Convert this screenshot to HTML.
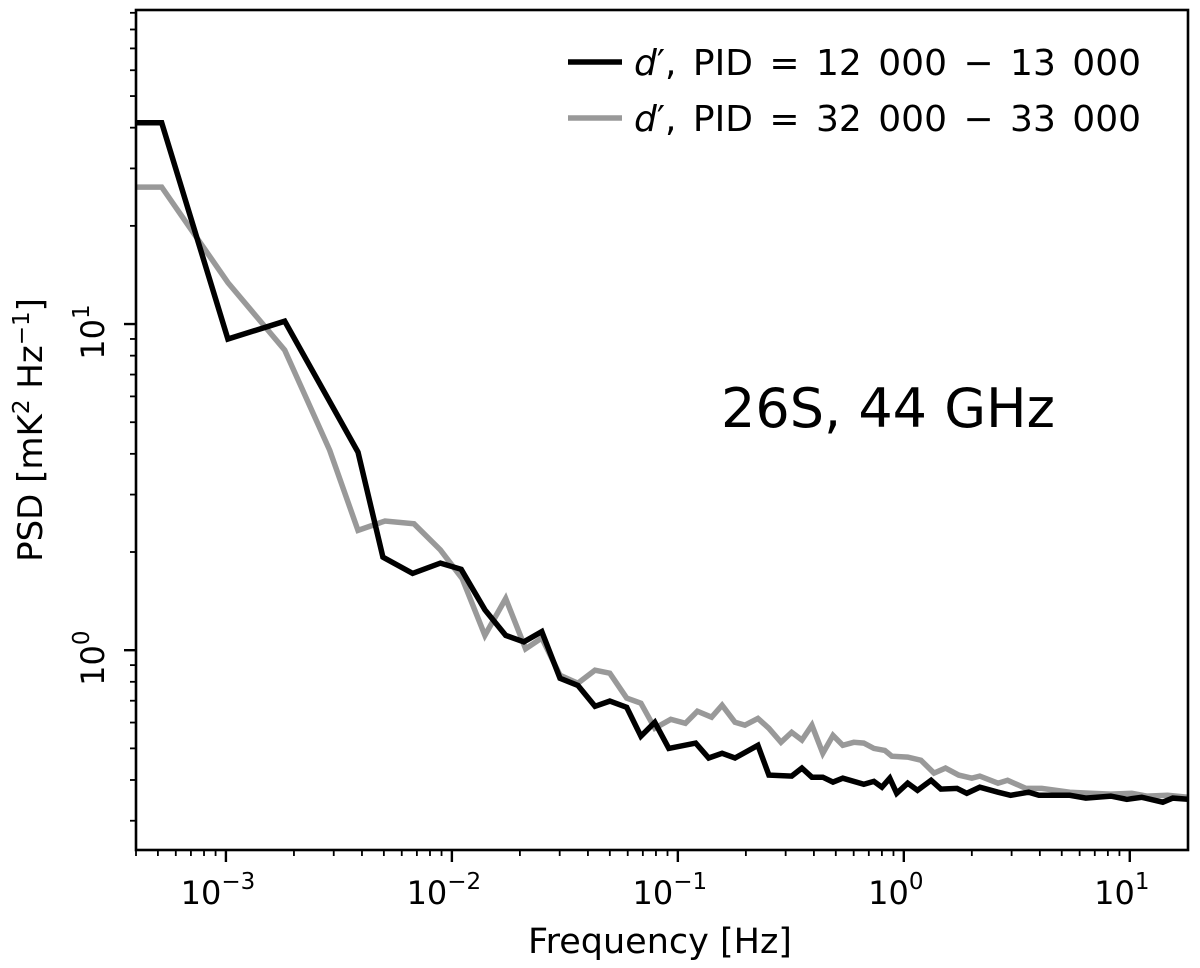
<!DOCTYPE html>
<html><head><meta charset="utf-8"><style>
html,body{margin:0;padding:0;background:#fff;}
svg{display:block;font-family:"DejaVu Sans","Liberation Sans",sans-serif;}
</style></head><body>
<svg id="chart" width="1200" height="968" viewBox="0 0 1200 968" xmlns="http://www.w3.org/2000/svg">
<g id="marks"></g>
<g id="axes"></g>
<text x="888" y="427" font-size="54" text-anchor="middle">26S, 44 GHz</text>
<g>
  <line x1="568" y1="62" x2="622" y2="62" stroke="#000" stroke-width="5.5"/>
  <text x="634" y="75" font-size="36" word-spacing="5"><tspan font-style="italic">d</tspan>′, PID = 12 000 − 13 000</text>
  <line x1="568" y1="118" x2="622" y2="118" stroke="#999" stroke-width="5.5"/>
  <text x="634" y="131" font-size="36" word-spacing="5"><tspan font-style="italic">d</tspan>′, PID = 32 000 − 33 000</text>
</g>
<text x="660" y="953" font-size="35" text-anchor="middle">Frequency [Hz]</text>
<text transform="translate(42,430) rotate(-90)" font-size="34" text-anchor="middle">PSD [mK<tspan dy="-13" font-size="23">2</tspan><tspan dy="13"> Hz</tspan><tspan dy="-13" font-size="23">−1</tspan><tspan dy="13">]</tspan></text>
</svg>
<script>
const freqBlack=[4.0e-4,5.2e-4,1.02e-3,1.82e-3,3.84e-3,4.95e-3,6.7e-3,8.9e-3,0.0110,0.0140,0.0173,0.0208,0.0250,0.0301,0.0361,0.0430,0.0500,0.0594,0.0686,0.0791,0.0912,0.120,0.137,0.157,0.179,0.226,0.253,0.319,0.354,0.392,0.438,0.486,0.537,0.665,0.737,0.80,0.867,0.93,1.04,1.15,1.32,1.46,1.72,1.90,2.17,2.61,2.97,3.57,3.96,5.43,6.39,8.24,9.70,11.3,14.0,15.5,18.1];
const psdBlack=[41.4,41.4,9.0,10.2,4.05,1.93,1.72,1.85,1.77,1.33,1.11,1.06,1.14,0.82,0.78,0.673,0.698,0.668,0.545,0.601,0.500,0.519,0.467,0.483,0.467,0.511,0.414,0.411,0.435,0.408,0.408,0.394,0.405,0.388,0.396,0.380,0.405,0.364,0.391,0.372,0.399,0.375,0.377,0.364,0.380,0.367,0.359,0.367,0.359,0.359,0.352,0.357,0.349,0.354,0.342,0.352,0.349];
const freqGray=[4.0e-4,5.2e-4,1.02e-3,1.82e-3,2.88e-3,3.84e-3,5.06e-3,6.8e-3,8.9e-3,0.0111,0.0140,0.0173,0.0212,0.0250,0.0301,0.0361,0.0430,0.0500,0.0594,0.0686,0.0791,0.0931,0.108,0.122,0.141,0.157,0.179,0.198,0.226,0.253,0.286,0.319,0.354,0.392,0.438,0.486,0.537,0.601,0.665,0.737,0.824,0.885,1.04,1.19,1.36,1.53,1.75,2.00,2.17,2.61,2.88,3.47,4.08,5.43,6.72,8.24,10.2,11.9,14.7,18.1];
const psdGray=[26.3,26.3,13.4,8.32,4.10,2.33,2.49,2.44,2.03,1.66,1.11,1.44,1.01,1.09,0.838,0.792,0.868,0.850,0.713,0.688,0.576,0.614,0.597,0.650,0.623,0.678,0.601,0.589,0.618,0.576,0.522,0.560,0.530,0.589,0.483,0.548,0.511,0.522,0.519,0.500,0.493,0.473,0.470,0.460,0.420,0.435,0.414,0.405,0.411,0.391,0.399,0.377,0.377,0.367,0.364,0.362,0.364,0.357,0.359,0.354];
const xTickExps=[-3,-2,-1,0,1];
const yTickExps=[0,1];
const X0=136,X1=1188,Y0=10,Y1=850;
const XMIN=4.0e-4,XMAX=18.1,YMIN=0.244,YMAX=91.8;
const NS="http://www.w3.org/2000/svg";
function xs(v){return X0+(Math.log10(v)-Math.log10(XMIN))/(Math.log10(XMAX)-Math.log10(XMIN))*(X1-X0);}
function ys(v){return Y1-(Math.log10(v)-Math.log10(YMIN))/(Math.log10(YMAX)-Math.log10(YMIN))*(Y1-Y0);}
function mk(tag,attrs,parent){const e=document.createElementNS(NS,tag);for(const k in attrs)e.setAttribute(k,attrs[k]);parent.appendChild(e);return e;}
const marks=document.getElementById('marks');
const axes=document.getElementById('axes');
const clip=mk('clipPath',{id:'pc'},marks);mk('rect',{x:X0,y:Y0,width:X1-X0,height:Y1-Y0},clip);
function series(fr,ps,color,name){
  const p=mk('polyline',{points:fr.map((f,i)=>xs(f).toFixed(1)+','+ys(ps[i]).toFixed(1)).join(' '),fill:'none',stroke:color,'stroke-width':5.5,'stroke-linejoin':'miter','clip-path':'url(#pc)'},marks);
  
  
}
series(freqGray,psdGray,'#999','line-pid-32000-33000');
series(freqBlack,psdBlack,'#000','line-pid-12000-13000');
const fr=mk('rect',{x:X0,y:Y0,width:X1-X0,height:Y1-Y0,fill:'none',stroke:'#000','stroke-width':2.6},axes);


for(let e=-4;e<=1;e++){for(let m=1;m<10;m++){const v=m*Math.pow(10,e);if(v<XMIN||v>XMAX)continue;const x=xs(v);const L=m===1?12:6;
  const t=mk('line',{x1:x,y1:Y1,x2:x,y2:Y1+L,stroke:'#000','stroke-width':m===1?2.4:1.8},axes);
  
  }}
xTickExps.forEach(e=>{const x=xs(Math.pow(10,e));
  const t=mk('text',{x:x-8,y:904,'font-size':32,'text-anchor':'middle'},axes);
  
  
  t.textContent='10';
  const s=mk('tspan',{dy:-15,'font-size':23},t);s.textContent=e<0?'−'+(-e):String(e);});
for(let e=-1;e<=1;e++){for(let m=1;m<10;m++){const v=m*Math.pow(10,e);if(v<YMIN||v>YMAX)continue;const y=ys(v);const L=m===1?12:6;
  const t=mk('line',{x1:X0,y1:y,x2:X0-L,y2:y,stroke:'#000','stroke-width':m===1?2.4:1.8},axes);
  
  }}
yTickExps.forEach(e=>{const y=ys(Math.pow(10,e));
  const t=mk('text',{transform:'translate(104,'+(y+8)+') rotate(-90)','font-size':32,'text-anchor':'middle'},axes);
  
  
  t.textContent='10';
  const s=mk('tspan',{dy:-15,'font-size':23},t);s.textContent=String(e);});
</script>
</body></html>
